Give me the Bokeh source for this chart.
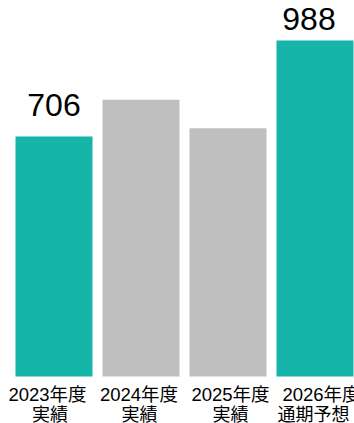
from bokeh.plotting import figure
from bokeh.models import ColumnDataSource, Range1d
from bokeh.core.properties import value
from bokeh.embed import file_html
from bokeh.resources import INLINE

# ---- data ----
categories = ["2023年度\n実績", "2024年度\n実績", "2025年度\n実績", "2026年度\n通期予想"]
values = [706, 814, 730, 988]
highlight = [True, False, False, True]
value_labels = ["706", "", "", "988"]

# ---- style ----
TEAL = "#17b5a9"
GRAY = "#bfbfbf"
W, H = 354, 423
slot_px = 87.0          # pixel width of one category slot
left_pad_px = 10.0      # frame offset of first slot
base_px = 376.0         # baseline pixel (from top)
px_per_unit = 0.340     # vertical scale

xs = list(range(len(categories)))
colors = [TEAL if h else GRAY for h in highlight]
lab_dy = [-31, 0, 0, -22]
lab_dx = [0, 0, 0, -6]
line1 = [c.split("\n")[0] for c in categories]
line2 = [c.split("\n")[1] for c in categories]
l1_dx = [-6.5, -2, 2.5, 6.5]
l2_dx = [-4, -1.5, 2.5, -1.5]

src = ColumnDataSource(dict(x=xs, top=values, color=colors,
                            l1=line1, l2=line2, l1dx=l1_dx, l2dx=l2_dx,
                            lab=value_labels, dy=lab_dy, dx=lab_dx))

x_start = -0.5 - left_pad_px / slot_px
x_end = x_start + W / slot_px
y_end = base_px / px_per_unit
y_start = -(H - base_px) / px_per_unit

p = figure(width=W, height=H, x_range=Range1d(x_start, x_end),
           y_range=Range1d(y_start, y_end), output_backend="svg",
           toolbar_location=None, min_border=0,
           x_axis_location=None, y_axis_location=None)
p.grid.visible = False
p.outline_line_color = None
p.background_fill_color = "white"
p.border_fill_color = "white"

p.vbar(x="x", top="top", bottom=0, width=77 / slot_px, fill_color="color",
       line_color=None, source=src)

p.text(x="x", y="top", text="lab", x_offset="dx", y_offset="dy",
       text_align="center", text_baseline="alphabetic",
       text_font=value("Liberation Sans"), text_font_size="32px",
       text_color="#000000", source=src)

FONT = value("Liberation Sans, Noto Sans CJK JP")
p.text(x="x", y=0, text="l1", x_offset="l1dx", y_offset=7,
       text_align="center", text_baseline="top",
       text_font=FONT, text_font_size="18.5px",
       text_color="#000000", source=src)
p.text(x="x", y=0, text="l2", x_offset="l2dx", y_offset=28.5,
       text_align="center", text_baseline="top",
       text_font=FONT, text_font_size="18px",
       text_color="#000000", source=src)

open("out.html", "w").write(file_html(p, INLINE))
